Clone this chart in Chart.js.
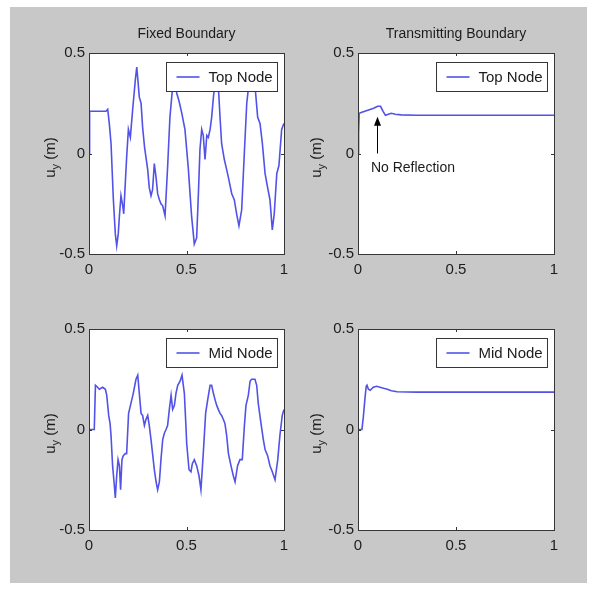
<!DOCTYPE html>
<html>
<head>
<meta charset="utf-8">
<script src="https://cdn.jsdelivr.net/npm/chart.js@4/dist/chart.umd.min.js"></script>
<style>
  body { margin: 0; background: #fff; width: 597px; height: 594px; position: relative; overflow: hidden; }
  #panel { position: absolute; left: 10px; top: 7px; width: 577px; height: 576px; background: #c8c8c8; }
  canvas { position: absolute; }
</style>
</head>
<body>
<div id="panel"></div>
<canvas id="fixedTop" width="287" height="290" style="left:10px;top:7px"></canvas>
<canvas id="transTop" width="290" height="290" style="left:297px;top:7px"></canvas>
<canvas id="fixedMid" width="287" height="286" style="left:10px;top:297px"></canvas>
<canvas id="transMid" width="290" height="286" style="left:297px;top:297px"></canvas>
<script>
// time (s) and displacement u_y (m)
let fixedTopT = [0, 0.002, 0.004, 0.03, 0.06, 0.087, 0.096, 0.104, 0.113, 0.125, 0.135, 0.142, 0.15, 0.156, 0.164, 0.173, 0.178, 0.186, 0.193, 0.202, 0.212, 0.224, 0.238, 0.245, 0.252, 0.258, 0.267, 0.275, 0.285, 0.301, 0.309, 0.318, 0.326, 0.335, 0.344, 0.352, 0.361, 0.369, 0.378, 0.39, 0.403, 0.415, 0.426, 0.438, 0.45, 0.462, 0.476, 0.492, 0.509, 0.526, 0.54, 0.552, 0.561, 0.569, 0.578, 0.586, 0.595, 0.604, 0.612, 0.621, 0.629, 0.638, 0.646, 0.655, 0.663, 0.672, 0.68, 0.694, 0.706, 0.715, 0.732, 0.745, 0.757, 0.769, 0.783, 0.796, 0.809, 0.817, 0.834, 0.851, 0.865, 0.877, 0.889, 0.903, 0.916, 0.928, 0.94, 0.95, 0.963, 0.974, 0.988, 1];
let fixedTopU = [0, 0.05, 0.21, 0.21, 0.21, 0.21, 0.22, 0.15, 0.05, -0.23, -0.4, -0.46, -0.4, -0.31, -0.21, -0.26, -0.3, -0.15, -0.02, 0.12, 0.08, 0.22, 0.37, 0.43, 0.35, 0.28, 0.25, 0.13, 0.03, -0.08, -0.17, -0.21, -0.18, -0.05, -0.12, -0.2, -0.23, -0.25, -0.26, -0.31, -0.07, 0.18, 0.3, 0.37, 0.3, 0.26, 0.2, 0.12, -0.07, -0.31, -0.45, -0.42, -0.2, 0.02, 0.12, 0.09, -0.03, 0.09, 0.08, 0.12, 0.18, 0.28, 0.35, 0.36, 0.34, 0.18, 0.05, -0.03, -0.08, -0.12, -0.2, -0.23, -0.3, -0.36, -0.28, -0.01, 0.25, 0.32, 0.37, 0.34, 0.18, 0.15, 0.05, -0.1, -0.17, -0.23, -0.38, -0.3, -0.1, -0.06, 0.12, 0.15];

let fixedMidT = [0, 0.027, 0.033, 0.044, 0.053, 0.07, 0.084, 0.091, 0.101, 0.108, 0.113, 0.121, 0.13, 0.135, 0.142, 0.149, 0.156, 0.162, 0.169, 0.176, 0.186, 0.193, 0.203, 0.215, 0.227, 0.241, 0.25, 0.258, 0.267, 0.275, 0.284, 0.292, 0.301, 0.309, 0.318, 0.326, 0.335, 0.344, 0.352, 0.361, 0.369, 0.378, 0.386, 0.395, 0.403, 0.412, 0.421, 0.429, 0.438, 0.446, 0.455, 0.467, 0.477, 0.489, 0.497, 0.501, 0.513, 0.523, 0.53, 0.54, 0.552, 0.564, 0.574, 0.586, 0.598, 0.609, 0.621, 0.629, 0.638, 0.646, 0.655, 0.663, 0.672, 0.68, 0.689, 0.697, 0.706, 0.715, 0.728, 0.74, 0.749, 0.762, 0.774, 0.786, 0.797, 0.805, 0.817, 0.826, 0.834, 0.851, 0.86, 0.868, 0.882, 0.894, 0.903, 0.916, 0.928, 0.94, 0.954, 0.968, 0.979, 0.991, 1];
let fixedMidU = [0, 0, 0.22, 0.21, 0.2, 0.21, 0.2, 0.17, 0.07, 0.03, -0.03, -0.18, -0.28, -0.34, -0.23, -0.15, -0.18, -0.3, -0.15, -0.13, -0.12, -0.12, 0.08, 0.13, 0.18, 0.25, 0.27, 0.18, 0.08, 0.07, 0.02, 0.05, 0.07, 0.02, -0.05, -0.12, -0.2, -0.26, -0.3, -0.26, -0.15, -0.05, -0.02, 0, 0.02, 0.1, 0.17, 0.1, 0.12, 0.18, 0.22, 0.24, 0.27, 0.18, 0.02, -0.07, -0.2, -0.21, -0.17, -0.15, -0.18, -0.23, -0.3, -0.12, 0.08, 0.15, 0.22, 0.22, 0.18, 0.15, 0.12, 0.1, 0.08, 0.07, 0.05, 0.03, -0.03, -0.12, -0.18, -0.23, -0.26, -0.18, -0.15, -0.15, 0.02, 0.12, 0.17, 0.24, 0.25, 0.25, 0.22, 0.13, 0.03, -0.05, -0.1, -0.13, -0.18, -0.21, -0.25, -0.15, -0.03, 0.07, 0.1];

let transTopT = [0, 0.003, 0.006, 0.02, 0.05, 0.08, 0.1, 0.115, 0.128, 0.14, 0.155, 0.17, 0.19, 0.22, 0.3, 0.4, 0.5, 0.6, 0.7, 0.8, 0.9, 1];
let transTopU = [0, 0.1, 0.2, 0.205, 0.215, 0.225, 0.235, 0.235, 0.21, 0.19, 0.195, 0.2, 0.195, 0.192, 0.19, 0.19, 0.19, 0.19, 0.19, 0.19, 0.19, 0.19];

let transMidT = [0, 0.02, 0.027, 0.036, 0.042, 0.046, 0.053, 0.062, 0.078, 0.095, 0.112, 0.13, 0.15, 0.17, 0.2, 0.3, 0.5, 0.7, 1];
let transMidU = [0, 0, 0.06, 0.16, 0.215, 0.22, 0.2, 0.195, 0.21, 0.215, 0.21, 0.205, 0.2, 0.193, 0.188, 0.186, 0.186, 0.186, 0.186];

let xTicks = [0, 0.5, 1];
let yTicks = [-0.5, 0, 0.5];
let columnTitles = ["Fixed Boundary", "Transmitting Boundary"];
let nodeNames = ["Top Node", "Mid Node"];
let noteText = "No Reflection";
let noteArrowT = 0.095, noteArrowFrom = 0.0, noteArrowTo = 0.183;
let noteTextT = 0.066, noteTextU = -0.072;

let fontFamily = "'Liberation Sans', Arial, sans-serif";
let textColor = "#1c1c1c";
let lineColor = "rgb(82, 82, 232)";
let frameColor = "#363636";

Chart.defaults.font.family = fontFamily;

function drawYLabel(ctx, x, y) {
  ctx.save();
  ctx.translate(x, y);
  ctx.rotate(-Math.PI / 2);
  ctx.fillStyle = textColor;
  ctx.textBaseline = "middle";
  ctx.textAlign = "left";
  ctx.font = "15px " + fontFamily;
  let wu = ctx.measureText("u").width;
  let wm = ctx.measureText(" (m)").width;
  ctx.font = "11px " + fontFamily;
  let wy = ctx.measureText("y").width;
  let sx = -(wu + wy + wm) / 2;
  ctx.font = "15px " + fontFamily;
  ctx.fillText("u", sx, 0);
  ctx.fillText(" (m)", sx + wu + wy, 0);
  ctx.font = "11px " + fontFamily;
  ctx.fillText("y", sx + wu, 5);
  ctx.restore();
}

// MATLAB style box: white area, frame, inward ticks, boxed legend, notes
let matlabAxes = {
  id: "matlabAxes",
  beforeDraw(chart) {
    let a = chart.chartArea;
    let ctx = chart.ctx;
    ctx.save();
    ctx.fillStyle = "#fff";
    ctx.fillRect(a.left, a.top, a.width, a.height);
    ctx.restore();
  },
  afterDatasetsDraw(chart, args, opts) {
    let a = chart.chartArea;
    let ctx = chart.ctx;
    let xs = chart.scales.x;
    let ys = chart.scales.y;
    ctx.save();
    ctx.strokeStyle = frameColor;
    ctx.lineWidth = 1;
    ctx.strokeRect(Math.round(a.left) + 0.5, Math.round(a.top) + 0.5, Math.round(a.width), Math.round(a.height));

    ctx.beginPath();
    xTicks.forEach((v) => {
      let px = Math.round(xs.getPixelForValue(v)) + 0.5;
      ctx.moveTo(px, a.top); ctx.lineTo(px, a.top + 3);
      ctx.moveTo(px, a.bottom); ctx.lineTo(px, a.bottom - 3);
    });
    yTicks.forEach((v) => {
      let py = Math.round(ys.getPixelForValue(v)) + 0.5;
      ctx.moveTo(a.left, py); ctx.lineTo(a.left + 3, py);
      ctx.moveTo(a.right, py); ctx.lineTo(a.right - 3, py);
    });
    ctx.stroke();

    // legend box
    let bw = 111, bh = 29;
    let bx = Math.round(a.right - 7 - bw) + 0.5;
    let by = Math.round(a.top + 9) + 0.5;
    ctx.fillStyle = "#fff";
    ctx.fillRect(bx, by, bw, bh);
    ctx.strokeRect(bx, by, bw, bh);
    let ds = chart.data.datasets[0];
    ctx.strokeStyle = ds.borderColor;
    ctx.lineWidth = 1.6;
    ctx.beginPath();
    ctx.moveTo(bx + 10, by + bh / 2);
    ctx.lineTo(bx + 33, by + bh / 2);
    ctx.stroke();
    ctx.fillStyle = textColor;
    ctx.font = "15px " + fontFamily;
    ctx.textBaseline = "middle";
    ctx.fillText(ds.label, bx + 42, by + bh / 2 + 1);

    if (opts.note) {
      let ax = Math.round(xs.getPixelForValue(noteArrowT)) + 0.5;
      let y0 = ys.getPixelForValue(noteArrowFrom);
      let y1 = ys.getPixelForValue(noteArrowTo);
      ctx.strokeStyle = "#000";
      ctx.lineWidth = 1;
      ctx.beginPath();
      ctx.moveTo(ax, y0);
      ctx.lineTo(ax, y1 + 8);
      ctx.stroke();
      ctx.fillStyle = "#000";
      ctx.beginPath();
      ctx.moveTo(ax, y1);
      ctx.lineTo(ax - 3.5, y1 + 9);
      ctx.lineTo(ax + 3.5, y1 + 9);
      ctx.closePath();
      ctx.fill();
      ctx.fillStyle = textColor;
      ctx.font = "14px " + fontFamily;
      ctx.textAlign = "left";
      ctx.fillText(noteText, xs.getPixelForValue(noteTextT), ys.getPixelForValue(noteTextU));
    }
    ctx.restore();

    drawYLabel(ctx, a.left - opts.labelGap, (a.top + a.bottom) / 2 + 4);
  }
};

function makeChart(id, t, u, name, title, box, note) {
  let points = t.map((x, i) => ({ x: x, y: u[i] }));
  return new Chart(document.getElementById(id), {
    type: "line",
    data: {
      datasets: [
        {
          label: name,
          data: points,
          borderColor: lineColor,
          borderWidth: 1.6,
          pointRadius: 0,
          tension: 0,
          fill: false,
        },
      ],
    },
    options: {
      responsive: false,
      animation: false,
      events: [],
      layout: { padding: { top: box.padTop, right: box.padRight, left: 0, bottom: 0 } },
      plugins: {
        legend: { display: false },
        tooltip: { enabled: false },
        title: {
          display: !!title,
          text: title,
          fullSize: false,
          color: textColor,
          font: { size: 14, weight: "normal" },
          padding: { top: 18.6, bottom: 10.6 },
        },
        matlabAxes: { labelGap: box.labelGap, note: note },
      },
      scales: {
        x: {
          type: "linear",
          min: 0,
          max: 1,
          grid: { display: false, drawTicks: false },
          border: { display: false },
          afterBuildTicks: (s) => { s.ticks = xTicks.map((v) => ({ value: v })); },
          afterFit: (s) => { s.height = box.xHeight; },
          ticks: { color: textColor, font: { size: 15 }, padding: 7, maxRotation: 0, callback: (v) => String(v) },
        },
        y: {
          type: "linear",
          min: -0.5,
          max: 0.5,
          grid: { display: false, drawTicks: false },
          border: { display: false },
          afterBuildTicks: (s) => { s.ticks = yTicks.map((v) => ({ value: v })); },
          afterFit: (s) => { s.width = box.yWidth; },
          ticks: { color: textColor, font: { size: 15 }, padding: 4, callback: (v) => String(v) },
        },
      },
    },
    plugins: [matlabAxes],
  });
}

let leftTop = { padTop: 0, padRight: 13, xHeight: 43, yWidth: 79, labelGap: 38 };
let rightTop = { padTop: 0, padRight: 33, xHeight: 43, yWidth: 61, labelGap: 41 };
let leftBottom = { padTop: 32, padRight: 13, xHeight: 53, yWidth: 79, labelGap: 38 };
let rightBottom = { padTop: 32, padRight: 33, xHeight: 53, yWidth: 61, labelGap: 41 };

makeChart("fixedTop", fixedTopT, fixedTopU, nodeNames[0], columnTitles[0], leftTop, false);
makeChart("transTop", transTopT, transTopU, nodeNames[0], columnTitles[1], rightTop, true);
makeChart("fixedMid", fixedMidT, fixedMidU, nodeNames[1], "", leftBottom, false);
makeChart("transMid", transMidT, transMidU, nodeNames[1], "", rightBottom, false);
</script>
</body>
</html>
